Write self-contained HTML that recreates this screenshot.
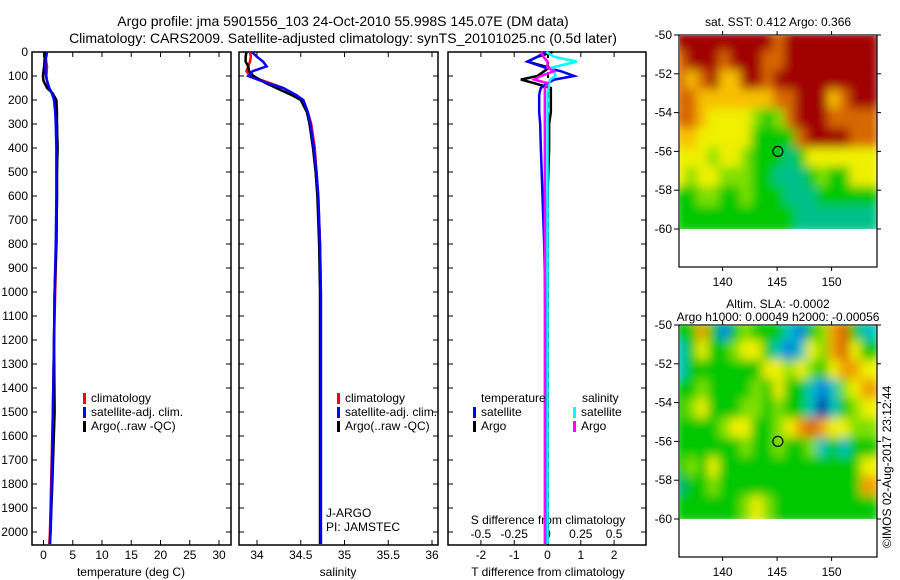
<!DOCTYPE html>
<html><head><meta charset="utf-8"><style>
body{margin:0;background:#fff}
svg{display:block;font-family:"Liberation Sans",sans-serif}
text{fill:#000}
</style></head><body>
<svg id="c" width="900" height="580" xmlns="http://www.w3.org/2000/svg">
<defs><filter id="bl" x="-0.1" y="-0.1" width="1.2" height="1.2"><feGaussianBlur stdDeviation="5"/></filter>
<clipPath id="cp1"><rect x="680" y="36" width="197" height="193"/></clipPath>
<clipPath id="cp2"><rect x="680" y="326" width="197" height="193"/></clipPath></defs>
<text x="343" y="26" font-size="14" text-anchor="middle">Argo profile: jma 5901556_103 24-Oct-2010 55.998S 145.07E (DM data)</text>
<text x="343" y="43" font-size="14" text-anchor="middle">Climatology: CARS2009. Satellite-adjusted climatology: synTS_20101025.nc (0.5d later)</text>
<g id="g"></g>
</svg>
<script>
// ---- data ----
const tDepth=[0,30,60,100,120,150,170,200,250,300,400,500,600,800,1000,1200,1500,1800,2000,2050];
const tClim=[0.3,0.4,0.6,0.5,0.6,0.9,1.4,2.0,2.2,2.3,2.4,2.3,2.3,2.2,2.0,1.8,1.6,1.3,1.1,1.0];
const tSat=[0.6,0.4,0.3,0.4,0.6,1.0,1.4,1.8,2.0,2.1,2.2,2.2,2.2,2.1,1.9,1.8,1.6,1.4,1.2,1.1];
const tArgo=[0.2,0.2,0.1,-0.1,0.0,0.6,1.5,2.2,2.3,2.3,2.4,2.3,2.3,2.2,1.9,1.8,1.9,1.5,1.2,1.1];
const sDepth=[0,20,40,60,80,100,130,150,180,200,250,300,400,500,600,800,1000,1500,2000,2050];
const sClim=[33.92,33.93,33.92,33.90,33.88,33.92,34.15,34.3,34.45,34.52,34.58,34.62,34.66,34.68,34.70,34.72,34.73,34.73,34.73,34.73];
const sSat=[33.94,34.0,34.07,34.11,33.95,33.90,34.12,34.3,34.45,34.53,34.58,34.61,34.65,34.68,34.70,34.72,34.73,34.73,34.73,34.73];
const sArgo=[33.88,33.87,33.87,33.90,33.91,33.96,34.1,34.22,34.4,34.5,34.57,34.6,34.64,34.67,34.69,34.71,34.72,34.72,34.72,34.72];
const dDepth=[0,20,40,65,80,100,115,130,150,165,180,200,250,300,400,600,800,1000,1500,2050];
const dTSat=[-0.08,-0.3,-0.6,-0.08,0.4,0.8,0.2,0.0,-0.2,-0.23,-0.25,-0.25,-0.25,-0.22,-0.2,-0.15,-0.1,-0.07,-0.05,-0.05];
const dTArgo=[0.15,-0.3,-0.6,0.05,-0.1,-0.3,-0.8,-0.4,0.1,0.1,0.1,0.1,0.1,0.05,0.05,0.0,0.0,0.0,0.0,0.0];
const dSSat=[-0.01,0.05,0.22,0.03,0.05,0.06,0.02,0.01,0.01,0.0,0.0,0.0,0.0,0.0,0.0,0.0,0.0,0.0,0.0,0.0];
const dSArgo=[-0.05,-0.03,0.0,0.0,0.05,-0.05,-0.1,0.0,-0.02,-0.02,-0.02,-0.02,-0.02,-0.02,-0.02,-0.02,-0.02,-0.02,-0.02,-0.02];
const sstGrid=[
[6,6,6,6,6,6,6,6,6,5,6,6,6,6,6,6,6,6],
[5,6,6,6,5,6,6,6,5,5,6,6,6,6,6,6,6,6],
[5,4,5,6,4,4,6,6,5,6,6,6,6,6,6,6,6,6],
[5,5,4,4,4,4,4,4,4,5,5,6,6,6,4,5,6,6],
[5,5,4,3,3,3,3,2,1,2,5,6,6,6,5,5,5,5],
[4,4,3,3,3,3,3,1,1,1,1,5,6,6,6,6,5,5],
[3,3,3,2,3,3,2,1,1,1,0,1,3,3,3,3,3,3],
[3,2,3,3,2,2,2,1,1,0,0,0,1,2,1,1,3,3],
[1,1,2,2,1,1,2,1,1,1,0,0,0,1,1,1,1,1],
[1,1,1,1,1,1,1,1,1,1,1,0,0,0,0,0,0,0]];
const sstColors=["#00c08a","#00c800","#80e000","#f0f000","#f8c000","#d86800","#a00000"];
const slaGrid=[
[4,4,7,4,1,4,5,4,4,4,2,1,4,5,7,8,4,2],
[2,4,6,4,4,5,6,6,4,2,1,2,6,5,7,8,6,4],
[2,4,4,4,4,4,4,4,6,6,5,6,5,4,6,7,7,6],
[4,4,5,4,4,4,4,5,4,6,4,4,2,1,2,5,6,7],
[4,5,6,4,4,4,5,5,4,5,4,4,2,0,2,4,5,6],
[4,4,4,4,5,6,6,4,4,5,6,7,8,7,6,6,5,5],
[4,4,4,4,4,4,5,4,4,5,4,4,5,2,4,2,4,4],
[4,5,4,6,4,4,4,4,4,4,4,4,4,4,4,4,4,6],
[3,4,4,5,4,4,4,4,4,4,4,4,4,4,4,4,4,7],
[4,4,4,4,4,4,5,6,5,4,4,4,4,4,4,4,4,4]];
const slaColors=["#0000a0","#0080e0","#00c0c0","#00b070","#00c800","#80e000","#f0f000","#f0a000","#d86000"];
const depthTicks=[0,100,200,300,400,500,600,700,800,900,1000,1100,1200,1300,1400,1500,1600,1700,1800,1900,2000];
const tTicks=[0,5,10,15,20,25,30];
const sTicks=[34,34.5,35,35.5,36];
const dTTicks=[-2,-1,0,1,2];
const dSTicks=["-0.5","-0.25","0","0.25","0.5"];
const latTicks=[-50,-52,-54,-56,-58,-60];
const lonTicks=[140,145,150];
// ---- drawing ----
const NS="http://www.w3.org/2000/svg",G=document.getElementById('g');
function mk(t,a,p){const e=document.createElementNS(NS,t);for(const k in a)e.setAttribute(k,a[k]);(p||G).appendChild(e);return e;}
const Y=d=>52+d*0.24;
const xT=v=>43.5+v*5.85, xS=v=>257+(v-34)*87.5, xD=v=>547.5+v*33.3, xDS=v=>547.5+v*133.2;
function panel(x0,x1,name){
 const r=mk('rect',{x:x0,y:52,width:x1-x0,height:493,fill:'none',stroke:'#000','stroke-width':1.5});
 
 depthTicks.forEach(d=>{mk('line',{x1:x0,x2:x0+5,y1:Y(d),y2:Y(d),stroke:'#000'});mk('line',{x1:x1-5,x2:x1,y1:Y(d),y2:Y(d),stroke:'#000'});});
}
function xticks(vals,f,x0,labels){vals.forEach((v,i)=>{const x=f(v);mk('line',{x1:x,x2:x,y1:545,y2:540,stroke:'#000'});mk('line',{x1:x,x2:x,y1:52,y2:57,stroke:'#000'});
 const t=mk('text',{x:x,y:559,'font-size':12,'text-anchor':'middle'});t.textContent=labels?labels[i]:v;});}
function line(xs,ds,fx,col,name,w){const p=mk('polyline',{points:xs.map((v,i)=>fx(v)+','+Y(ds[i])).join(' '),fill:'none',stroke:col,'stroke-width':w||2.5});
 }
function txt(x,y,s,name,extra){const t=mk('text',Object.assign({x:x,y:y,'font-size':12},extra||{}));t.textContent=s;return t;}
panel(32,231,'temperature-panel');panel(239,438,'salinity-panel');panel(448,646,'difference-panel');
depthTicks.forEach(d=>txt(28,Y(d)+4,d,'y-tick-label',{'text-anchor':'end'}));
xticks(tTicks,xT,32);xticks(sTicks,xS,239);xticks(dTTicks,xD,448);
dSTicks.forEach(v=>txt(xDS(+v),538,v,'s-diff-tick-label',{'text-anchor':'middle'}));
txt(548,524,'S difference from climatology','s-diff-axis-title',{'text-anchor':'middle'});
txt(131,576,'temperature (deg C)','x-axis-title-temperature',{'text-anchor':'middle'});
txt(338,576,'salinity','x-axis-title-salinity',{'text-anchor':'middle'});
txt(548,576,'T difference from climatology','x-axis-title-tdiff',{'text-anchor':'middle'});
line(tClim,tDepth,xT,'#f00','temp-climatology');line(tArgo,tDepth,xT,'#000','temp-argo');line(tSat,tDepth,xT,'#00f','temp-satellite');
line(sClim,sDepth,xS,'#f00','sal-climatology');line(sArgo,sDepth,xS,'#000','sal-argo');line(sSat,sDepth,xS,'#00f','sal-satellite');
mk('line',{x1:548,x2:548,y1:52,y2:545,stroke:'#000','stroke-width':2,'stroke-dasharray':'6,4'});
line(dTArgo,dDepth,xD,'#000','tdiff-argo');line(dTSat,dDepth,xD,'#00f','tdiff-satellite');
line(dSSat,dDepth,xDS,'#0ff','sdiff-satellite');line(dSArgo,dDepth,xDS,'#f0f','sdiff-argo');
function legend(x,y,items){items.forEach((it,i)=>{mk('rect',{x:x,y:y+i*14-9,width:3,height:11,fill:it[0]});txt(x+8,y+i*14,it[1],'legend-entry');});}
legend(83,402,[['#f00','climatology'],['#00f','satellite-adj. clim.'],['#000','Argo(..raw -QC)']]);
legend(337,402,[['#f00','climatology'],['#00f','satellite-adj. clim.'],['#000','Argo(..raw -QC)']]);
txt(481,402,'temperature','legend-title-temperature');txt(582,402,'salinity','legend-title-salinity');
legend(473,416,[['#00f','satellite'],['#000','Argo']]);legend(573,416,[['#0ff','satellite'],['#f0f','Argo']]);
txt(326,517,'J-ARGO','program-label');txt(326,531,'PI: JAMSTEC','pi-label');
// maps
const lonX=l=>679+(l-136)*10.9;
function map(grid,cols,y0,clip,name,title1,title2){
 const g=mk('g',{'clip-path':'url(#'+clip+')'});const gi=mk('g',{filter:'url(#bl)'},g);
 
 grid.forEach((row,r)=>row.forEach((v,c)=>{mk('rect',{x:lonX(136+c)-4,y:y0+r*19.4-4,width:19,height:27.4,fill:cols[v]},gi);}));
 mk('rect',{x:679,y:y0,width:198,height:232,fill:'none',stroke:'#000','stroke-width':1.2});
 latTicks.forEach(l=>{const y=y0+(-50-l)*19.4;mk('line',{x1:679,x2:674,y1:y,y2:y,stroke:'#000'});mk('line',{x1:877,x2:881,y1:y,y2:y,stroke:'#000'});txt(672,y+4,l,'lat-tick-label',{'text-anchor':'end'});});
 lonTicks.forEach(l=>{const x=lonX(l);mk('line',{x1:x,x2:x,y1:y0,y2:y0-4,stroke:'#000'});mk('line',{x1:x,x2:x,y1:y0+232,y2:y0+236,stroke:'#000'});txt(x,y0+251,l,'lon-tick-label',{'text-anchor':'middle'});});
 const c=mk('circle',{cx:lonX(145.07),cy:y0+6*19.4,r:5,fill:'none',stroke:'#000','stroke-width':1.2});
 if(title2){txt(778,y0-17,title1,'map-title',{'text-anchor':'middle'});txt(778,y0-4,title2,'map-subtitle',{'text-anchor':'middle'});}
 else txt(778,y0-9,title1,'map-title',{'text-anchor':'middle'});
}
map(sstGrid,sstColors,35,'cp1','sst-map','sat. SST: 0.412 Argo: 0.366');
map(slaGrid,slaColors,325,'cp2','sla-map','Altim. SLA: -0.0002','Argo h1000: 0.00049 h2000: -0.00056');
txt(0,0,'©IMOS 02-Aug-2017 23:12:44','timestamp',{transform:'translate(891,548) rotate(-90)'});
</script>
</body></html>
